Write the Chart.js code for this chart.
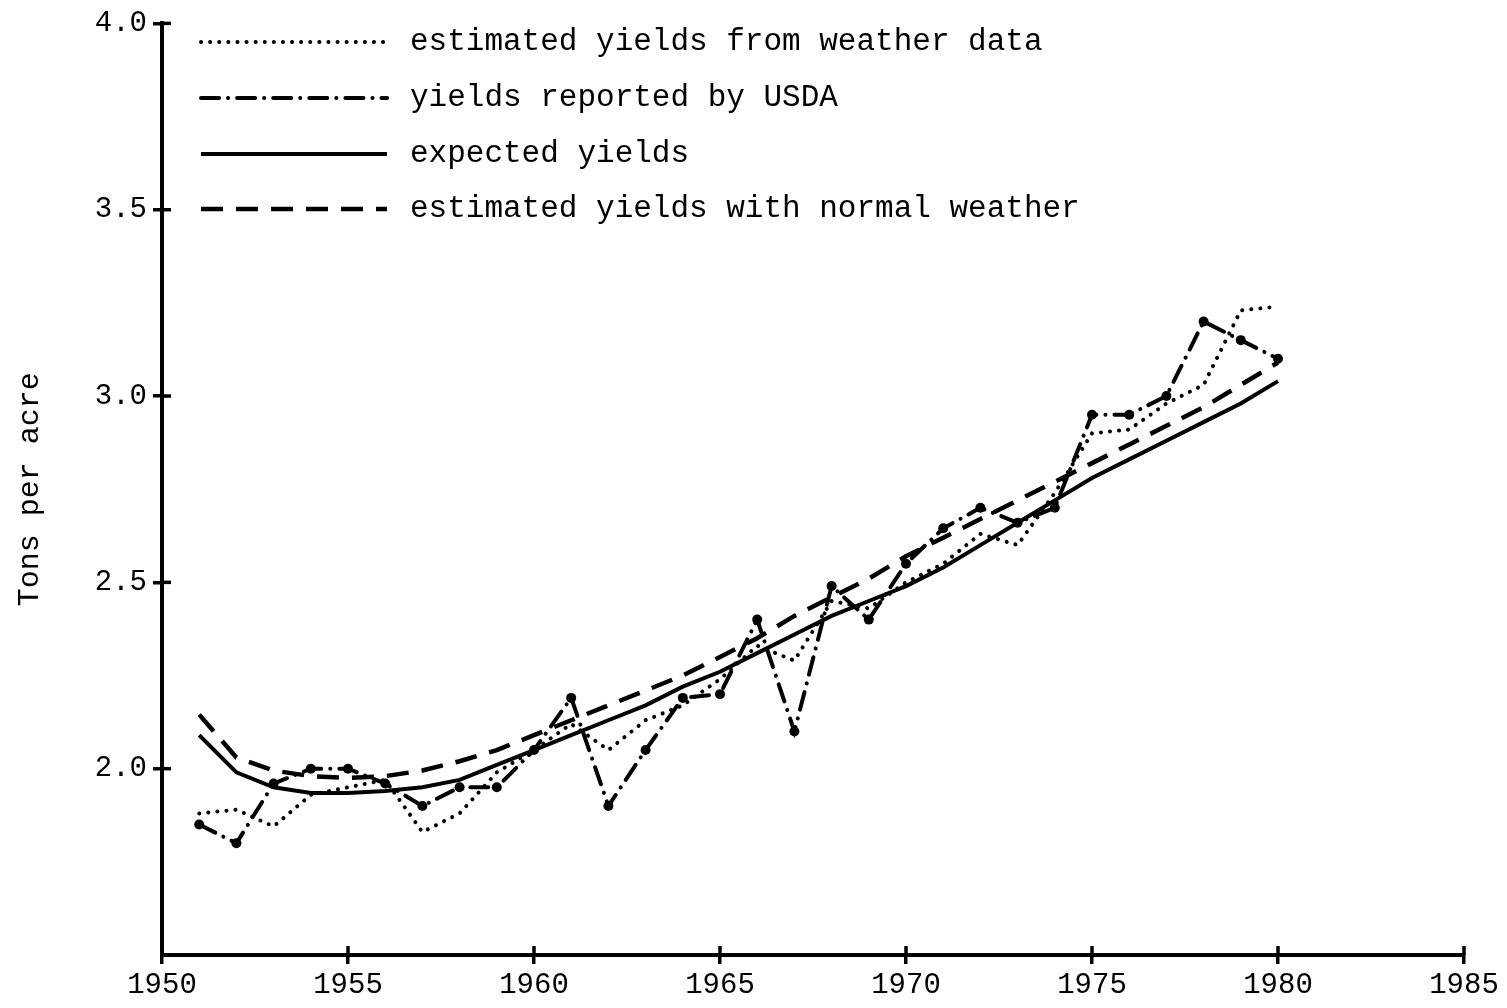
<!DOCTYPE html>
<html>
<head>
<meta charset="utf-8">
<script src="https://cdn.jsdelivr.net/npm/chart.js@4.4.1/dist/chart.umd.min.js"></script>
<style>
  html, body { margin: 0; padding: 0; background: #fff; }
</style>
</head>
<body>
<canvas id="chart" width="1507" height="1008"></canvas>
<script>
// ─── Data ───────────────────────────────────────────────────────────────────
const years = [1951, 1952, 1953, 1954, 1955, 1956, 1957, 1958, 1959, 1960,
               1961, 1962, 1963, 1964, 1965, 1966, 1967, 1968, 1969, 1970,
               1971, 1972, 1973, 1974, 1975, 1976, 1977, 1978, 1979, 1980];

const weatherYields  = [1.88, 1.89, 1.845, 1.93, 1.95, 1.97, 1.83, 1.88, 1.99, 2.05,
                        2.12, 2.05, 2.13, 2.17, 2.24, 2.33, 2.29, 2.45, 2.43, 2.50,
                        2.55, 2.63, 2.60, 2.74, 2.90, 2.91, 2.98, 3.03, 3.23, 3.24];
const usdaYields     = [1.85, 1.80, 1.96, 2.00, 2.00, 1.96, 1.90, 1.95, 1.95, 2.05,
                        2.19, 1.90, 2.05, 2.19, 2.20, 2.40, 2.10, 2.49, 2.40, 2.55,
                        2.645, 2.70, 2.66, 2.70, 2.95, 2.95, 3.00, 3.20, 3.15, 3.10];
const expectedYields = [2.09, 1.99, 1.95, 1.935, 1.935, 1.94, 1.95, 1.97, 2.01, 2.05,
                        2.09, 2.13, 2.17, 2.22, 2.26, 2.31, 2.36, 2.41, 2.45, 2.49,
                        2.54, 2.60, 2.66, 2.72, 2.78, 2.83, 2.88, 2.93, 2.98, 3.04];
const normalYields   = [2.145, 2.03, 1.995, 1.98, 1.975, 1.98, 1.995, 2.02, 2.05, 2.09,
                        2.13, 2.17, 2.21, 2.25, 2.30, 2.35, 2.41, 2.46, 2.51, 2.57,
                        2.62, 2.67, 2.72, 2.77, 2.82, 2.87, 2.92, 2.97, 3.03, 3.09];

const seriesLabels = [
    "estimated yields from weather data",
    "yields reported by USDA",
    "expected yields",
    "estimated yields with normal weather",
];

const xTicks = [1950, 1955, 1960, 1965, 1970, 1975, 1980, 1985];
const yTicks = [2.0, 2.5, 3.0, 3.5, 4.0];

// ─── Styling ────────────────────────────────────────────────────────────────
const INK = "#000000";
const FONT = "'Liberation Mono', 'DejaVu Sans Mono', monospace";

function toPoints(values) {
    return years.map((yr, i) => ({ x: yr, y: values[i] }));
}

// legend drawn inside the plot, top-left, like the original figure
const insideLegend = {
    id: "insideLegend",
    afterDraw(chart) {
        const ctx = chart.ctx;
        const rows = [42, 98, 154, 209];
        ctx.save();
        chart.data.datasets.forEach((ds, i) => {
            const y = rows[i];
            ctx.strokeStyle = INK;
            ctx.lineWidth = ds.borderWidth;
            ctx.lineCap = ds.borderCapStyle || "butt";
            ctx.setLineDash(ds.borderDash || []);
            ctx.beginPath();
            ctx.moveTo(201, y);
            ctx.lineTo(387, y);
            ctx.stroke();
            ctx.setLineDash([]);
            ctx.fillStyle = INK;
            ctx.font = `31px ${FONT}`;
            ctx.textBaseline = "middle";
            ctx.fillText(ds.label, 410, y);
        });
        ctx.restore();
    },
};

// tick marks that cross the axis lines
const crossTicks = {
    id: "crossTicks",
    afterDraw(chart) {
        const { ctx, chartArea, scales } = chart;
        ctx.save();
        ctx.strokeStyle = INK;
        ctx.lineWidth = 3.5;
        scales.x.ticks.forEach(t => {
            if (t.value === 1950) return;
            const px = scales.x.getPixelForValue(t.value);
            ctx.beginPath();
            ctx.moveTo(px, chartArea.bottom - 9);
            ctx.lineTo(px, chartArea.bottom);
            ctx.stroke();
        });
        scales.y.ticks.forEach(t => {
            const py = scales.y.getPixelForValue(t.value);
            ctx.beginPath();
            ctx.moveTo(chartArea.left, py);
            ctx.lineTo(chartArea.left + 9, py);
            ctx.stroke();
        });
        ctx.restore();
    },
};

new Chart(document.getElementById("chart"), {
    type: "line",
    data: {
        datasets: [
            {
                label: seriesLabels[0],
                data: toPoints(weatherYields),
                borderColor: INK,
                borderWidth: 4,
                borderDash: [0.1, 9],
                borderCapStyle: "round",
                pointRadius: 0,
            },
            {
                label: seriesLabels[1],
                data: toPoints(usdaYields),
                borderColor: INK,
                borderWidth: 4,
                borderDash: [18, 9, 0.1, 9],
                borderCapStyle: "round",
                pointRadius: 5,
                pointBackgroundColor: INK,
                pointBorderWidth: 0,
            },
            {
                label: seriesLabels[2],
                data: toPoints(expectedYields),
                borderColor: INK,
                borderWidth: 4,
                pointRadius: 0,
            },
            {
                label: seriesLabels[3],
                data: toPoints(normalYields),
                borderColor: INK,
                borderWidth: 4.5,
                borderDash: [22, 13],
                pointRadius: 0,
            },
        ],
    },
    options: {
        responsive: false,
        animation: false,
        events: [],
        layout: { padding: { top: 23, right: 43, left: 0, bottom: 0 } },
        elements: { line: { tension: 0 } },
        plugins: {
            legend: { display: false },
            tooltip: { enabled: false },
        },
        scales: {
            x: {
                type: "linear",
                min: 1950,
                max: 1985,
                afterBuildTicks: s => { s.ticks = xTicks.map(v => ({ value: v })); },
                afterFit: s => { s.height = 53; },
                border: { display: true, color: INK, width: 4 },
                grid: { drawOnChartArea: false, color: INK, lineWidth: 3.5, tickLength: 9 },
                ticks: {
                    color: INK,
                    padding: 4,
                    maxRotation: 0,
                    font: { family: FONT, size: 29 },
                    callback: v => String(v),
                },
            },
            y: {
                type: "linear",
                min: 1.5,
                max: 4.0,
                afterBuildTicks: s => { s.ticks = yTicks.map(v => ({ value: v })); },
                afterFit: s => { s.width = 162; },
                border: { display: true, color: INK, width: 4 },
                grid: { drawOnChartArea: false, color: INK, lineWidth: 3.5, tickLength: 9 },
                ticks: {
                    color: INK,
                    padding: 6,
                    font: { family: FONT, size: 29 },
                    callback: v => Number(v).toFixed(1),
                },
                title: {
                    display: true,
                    text: "Tons per acre",
                    color: INK,
                    padding: { top: 12, bottom: 0 },
                    font: { family: FONT, size: 30, weight: "normal" },
                },
            },
        },
    },
    plugins: [insideLegend, crossTicks],
});
</script>
</body>
</html>
